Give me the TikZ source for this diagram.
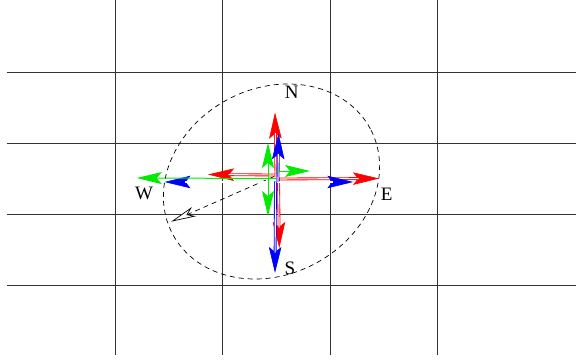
\documentclass[tikz,border=0pt]{standalone}
\usepackage{fontspec}
\setmainfont{Liberation Serif}
\usetikzlibrary{arrows.meta}
\begin{document}
\begin{tikzpicture}[x=1pt,y=-1pt,
  gridline/.style={draw=black!80, line width=1pt},
  dbl/.style={line width=0.85pt, double=white, double distance=1.1pt, shorten >=20.5pt},
  head/.style={line width=0.6pt, -{Stealth[length=26pt,width=12.5pt,inset=5pt]}},
  greenarr/.style={draw={rgb,255:red,0;green,235;blue,0}, line width=1pt, -{Stealth[length=25pt,width=12pt,inset=5pt]}},
  lbl/.style={font=\fontsize{19}{19}\selectfont, inner sep=0pt},
]
\useasboundingbox (0,0) rectangle (576,362);
\foreach \x in {115,222,330,437} \draw[gridline] (\x,0) -- (\x,355);
\foreach \y in {72,143,214,285} \draw[gridline] (7,\y) -- (576,\y);

% dashed ellipse
\draw[dash pattern=on 5pt off 4pt, line width=0.7pt, rotate around={28:(271.5,181.5)}]
  (271.5,181.5) ellipse [x radius=112pt, y radius=93pt];

% dashed arrow
\coordinate (d0) at (274,176.5);
\coordinate (d1) at (171,221.7);
\draw[dash pattern=on 5pt off 4pt, line width=0.7pt,
  -{Stealth[open,length=25pt,width=10pt,inset=7pt,fill=white]}] (d0) -- (d1);

% red
\coordinate (rL0) at (276,175);   \coordinate (rL) at (208,174.5);
\coordinate (rR0) at (276,179);   \coordinate (rR) at (379,178.5);
\coordinate (rU0) at (276,177);   \coordinate (rU) at (275,112.5);
\coordinate (rD0) at (278.5,178); \coordinate (rD) at (279.3,248);
\foreach \a/\b in {rL0/rL,rR0/rR,rU0/rU,rD0/rD}{
  \draw[head, draw=red, fill=red] (\a) -- (\b);
  \draw[dbl, draw=red] (\a) -- (\b);}

% blue
\coordinate (bU0) at (278,181.5); \coordinate (bU) at (278.5,133.3);
\coordinate (bD0) at (275.5,181.5); \coordinate (bD) at (275,273);
\coordinate (bL0) at (277,182);   \coordinate (bL) at (164.5,182);
\coordinate (bR0) at (277,182);   \coordinate (bR) at (353.3,182);
\foreach \a/\b in {bL0/bL,bR0/bR,bU0/bU,bD0/bD}{
  \draw[head, draw=blue, fill=blue] (\a) -- (\b);
  \draw[dbl, draw=blue] (\a) -- (\b);}

% green
\coordinate (gL0) at (276,178.5); \coordinate (gL) at (136.7,178);
\coordinate (gR0) at (276,171);   \coordinate (gR) at (310,171);
\coordinate (gU0) at (268,178);   \coordinate (gU) at (268,143);
\coordinate (gD0) at (268,178);   \coordinate (gD) at (268,216);
\foreach \a/\b in {gL0/gL,gR0/gR,gU0/gU,gD0/gD}
  \draw[greenarr] (\a) -- (\b);

% labels
\node[lbl] (N) at (291.7,92.7) {N};
\node[lbl] (E) at (386.7,194) {E};
\node[lbl] (W) at (144,193.3) {W};
\node[lbl] (S) at (290,268.3) {S};
\end{tikzpicture}
\end{document}
